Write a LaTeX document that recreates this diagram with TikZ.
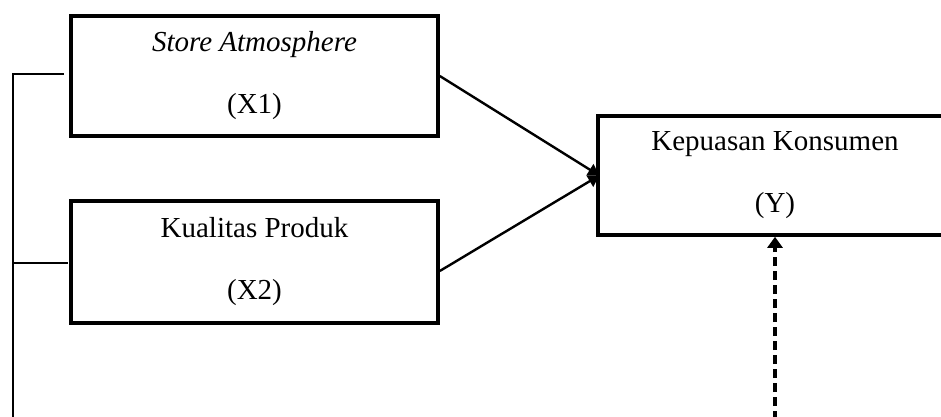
\documentclass[tikz,border=0pt]{standalone}
\usepackage{fontspec}
\setmainfont{Liberation Serif}
\usetikzlibrary{arrows.meta}
\tikzset{
  varbox/.style={draw, line width=3.6pt, inner sep=0pt, align=center,
    font=\fontsize{29}{35}\selectfont},
  conn/.style={line width=2.4pt},
  tip/.style={-{Triangle[length=11pt,width=13pt]}},
}
\begin{document}
\begin{tikzpicture}[x=1pt,y=-1pt]
\useasboundingbox (0,0) rectangle (941,416);
\node[varbox, minimum width=367pt, minimum height=120pt] (X1) at (254.5,76)
  {\textit{Store Atmosphere}\\[27pt](X1)};
\node[varbox, minimum width=367pt, minimum height=122pt] (X2) at (254.5,262)
  {Kualitas Produk\\[27pt](X2)};
\node[varbox, minimum width=354pt, minimum height=119pt] (Y) at (775,175.5)
  {Kepuasan Konsumen\\[27pt](Y)};
% arrows into Y
\draw[conn, tip] (X1.east) -- ([xshift=3pt]Y.west);
\draw[conn, tip] ([yshift=-9pt]X2.east) -- ([xshift=3pt]Y.west);
% dashed arrow from below
\coordinate (d) at (775,420);
\draw[line width=3.2pt, dash pattern=on 9pt off 5pt, -{Triangle[length=11pt,width=15pt]}] (d) -- (Y.south);
% bracket on the left
\coordinate (b0) at (13,74);
\coordinate (b1) at (64,74);
\coordinate (b2) at (13,263);
\coordinate (b3) at (68,263);
\coordinate (b4) at (13,420);
\draw[conn] (b1) -- (b0) -- (b4);
\draw[conn] (b2) -- (b3);
\end{tikzpicture}
\end{document}
